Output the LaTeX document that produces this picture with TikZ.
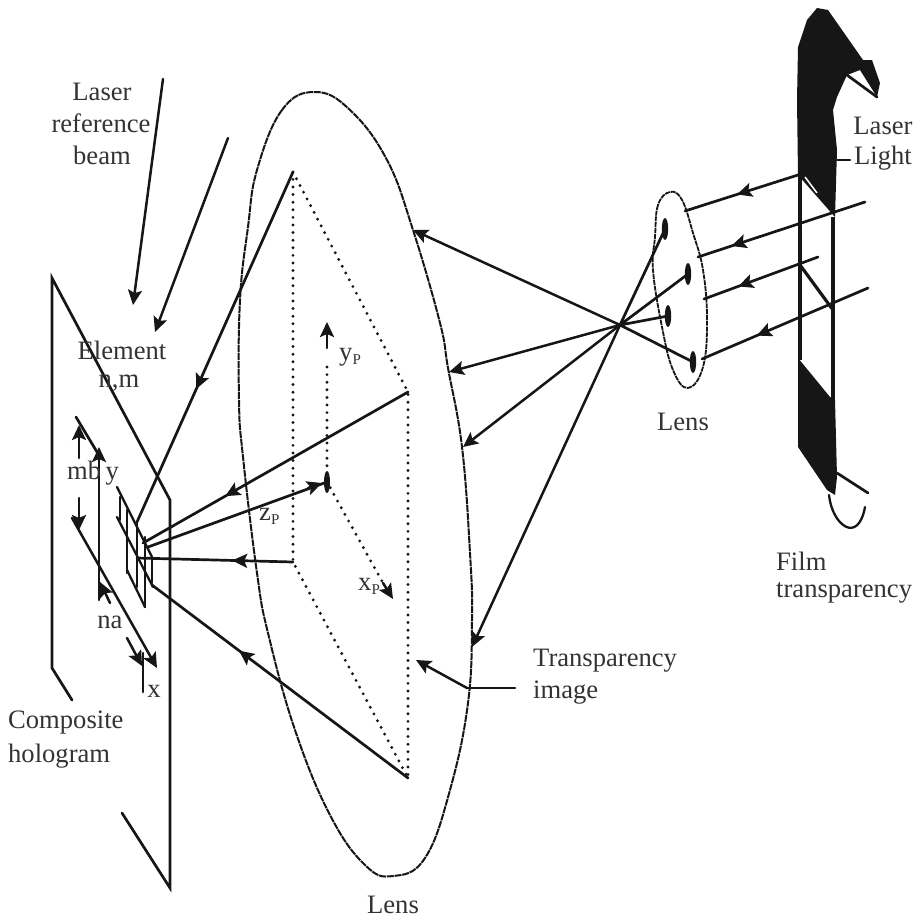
\documentclass[tikz,border=0pt]{standalone}
\usepackage{fontspec}
\setmainfont{Liberation Serif}
\usetikzlibrary{arrows.meta,decorations.markings}
\definecolor{ink}{HTML}{161616}
\definecolor{txt}{HTML}{333333}
\newcommand{\subP}{\raisebox{-.32ex}{\fontsize{15}{15}\selectfont P}}
\tikzset{
  ln/.style={draw=ink,line width=2.7pt,line cap=round},
  thin ln/.style={draw=ink,line width=2.3pt,line cap=round},
  lensline/.style={draw=ink,line width=2pt,dash pattern=on 7pt off .8pt},
  dotline/.style={draw=ink,line width=3.2pt,line cap=round,dash pattern=on 0pt off 7.6pt},
  tip/.style={-{Stealth[length=15pt,width=14pt,inset=3pt]},draw=ink,line width=2.5pt,line cap=round},
  midtip/.style={postaction={decorate},decoration={markings,
     mark=at position #1 with {\arrow[ink]{Stealth[length=15pt,width=14pt,inset=3pt]}}}},
  lab/.style={text=txt,font=\fontsize{26.6}{30}\selectfont,inner sep=0pt},
  dot/.style={fill=ink,draw=none},
}
\begin{document}
\begin{tikzpicture}[x=1pt,y=-1pt]
\useasboundingbox (0,0) rectangle (919,921);
% named points
\coordinate (P1) at (293,172);
\coordinate (P2) at (408,392);
\coordinate (P3) at (293,562);
\coordinate (P4) at (408,778);
\coordinate (PC) at (327,482);
\coordinate (F) at (620,325);
% big lens
\draw[lensline] plot[smooth cycle,tension=.7] coordinates {(315,92)(282,110)(257,170)(248,227)(240,300)(239,400)(243,457)(257,573)(268,633)(295,730)(330,815)(365,865)(393,876)(425,858)(450,790)(468,703)(472,620)(470,553)(462,447)(448,368)(440,323)(413,230)(387,160)(350,110)};
% small lens
\draw[lensline,line width=1.8pt,dash pattern=on 5pt off .8pt] plot[smooth cycle,tension=.7] coordinates {(670,192)(658,205)(655,237)(653,270)(662,327)(673,370)(688,388)(703,367)(707,320)(703,270)(693,233)(682,200)};
% dotted image plane
\draw[dotline] (P1)--(P2)--(P4)--(P3)--cycle;
\draw[dotline] (327,367)--(PC)--(383,583);
\draw[tip] (327,348)--(327,322);
\draw[tip] (383,583)--(393,599);
% hologram plate
\draw[ln] (72,700)--(52,668)--(52,278)--(170,500)--(170,888)--(122,813);
% axes on plate
\draw[ln] (76,417)--(100,457);
\draw[tip] (72,518)--(157,668);
\draw[ln] (99,600)--(99,455);
\draw[tip] (99,455)--(99,447);
\draw[tip] (79,458)--(79,425);
\draw[tip] (79,498)--(79,530);
\draw[tip] (110,603)--(100,582);
\draw[tip] (127,638)--(142,666);
\draw[ln] (143,653)--(143,692);
% element grid
\draw[thin ln] (117,487)--(152,557) (117,517)--(153,587) (127,570)--(145,607);
\draw[thin ln] (120,497)--(120,520) (127,510)--(127,573) (137,523)--(137,587) (145,537)--(145,607) (152,557)--(152,583);
% rays from image to hologram
\coordinate (H1) at (137,522);
\coordinate (H2) at (143,543);
\coordinate (H3) at (148,547);
\coordinate (H4) at (137,558);
\coordinate (H5) at (152,585);
\draw[ln,midtip=.62] (P1)--(H1);
\draw[ln,midtip=.69] (P2)--(H2);
\draw[ln,midtip=.39] (P3)--(H4);
\draw[ln,midtip=.66] (P4)--(H5);
\draw[ln] (H3)--(PC);
\draw[tip] (308,488)--(322,483);
\fill[dot] (PC) ellipse (3 and 11);
% reference beams
\draw[tip] (163,79)--(133,305);
\draw[tip] (228,138)--(155,332);
% rays focal point to big lens
\draw[tip] (F)--(413,230);
\draw[tip] (F)--(449,372);
\draw[tip] (F)--(463,447);
\draw[tip] (F)--(472,647);
% rays lens to focal point
\coordinate (D1) at (665,229);
\coordinate (D2) at (688,274);
\coordinate (D3) at (668,316);
\coordinate (D4) at (693,362);
\draw[ln] (F)--(D1) (F)--(D2) (F)--(D3) (F)--(D4);
\fill[dot] (D1) ellipse (3.2 and 11);
\fill[dot] (D2) ellipse (3.2 and 11);
\fill[dot] (D3) ellipse (3.2 and 11);
\fill[dot] (D4) ellipse (3.2 and 11);
% film transparency
\fill[dot] (798,175)--(797,100)--(798,47)--(807,20)--(817,8)--(828,10)--(863,60)--(872,60)--(880,83)--(877,97)--(860,70)--(847,75)--(837,97)--(833,110)--(837,150)--(835,217)--cycle;
\draw[draw=white,line width=1.5pt] (805,177)--(817,193);
\draw[ln] (847,75)--(877,97);
\draw[line width=3.8pt,draw=ink] (800,175)--(800,360) (833,217)--(833,400);
\draw[line width=3.2pt,draw=ink,line cap=round] (800,265)--(833,310);
\fill[dot] (798,358)--(830,397)--(835,400)--(837,477)--(835,495)--(827,490)--(798,447)--cycle;
\draw[ln] (837,473)--(868,493);
\draw[thin ln] (829,495) .. controls (832,525) and (858,545) .. (865,507);
\draw[thin ln] (837,160)--(850,160);
% rays film to small lens
\draw[ln,midtip=.54] (798,175)--(685,211);
\draw[ln,midtip=.8] (865,202)--(698,257);
\draw[ln,midtip=.7] (818,257)--(704,299);
\draw[ln,midtip=.67] (868,288)--(702,359);
% transparency image pointer
\draw[thin ln] (515,688)--(467,688);
\draw[tip] (467,688)--(416,660);
% labels
\node[lab] (l1) at (102,92) {Laser};
\node[lab] (l2) at (101,123) {reference};
\node[lab] (l3) at (102,155) {beam};
\node[lab] (l4) at (122,350) {Element};
\node[lab] (l5) at (119,383) {n,m};
\node[lab,anchor=west] (l6) at (67,473) {mb\,y};
\node[lab] (l7) at (110,622) {na};
\node[lab] (l8) at (154,691) {x};
\node[lab,anchor=west] (l9) at (8,723) {Composite};
\node[lab,anchor=west] (l10) at (8,756) {hologram};
\node[lab] (l11) at (393,905) {Lens};
\node[lab,anchor=west] (l12) at (339,357) {y\subP};
\node[lab,anchor=west] (l13) at (259,516) {z\subP};
\node[lab,anchor=west] (l14) at (358,586) {x\subP};
\node[lab,anchor=west] (l15) at (533,661) {Transparency};
\node[lab,anchor=west] (l16) at (533,693) {image};
\node[lab] (l17) at (683,422) {Lens};
\node[lab,anchor=west] (l18) at (776,561) {Film};
\node[lab,anchor=west] (l19) at (776,593) {transparency};
\node[lab] (l20) at (883,126) {Laser};
\node[lab] (l21) at (883,158) {Light};
\end{tikzpicture}
\end{document}
